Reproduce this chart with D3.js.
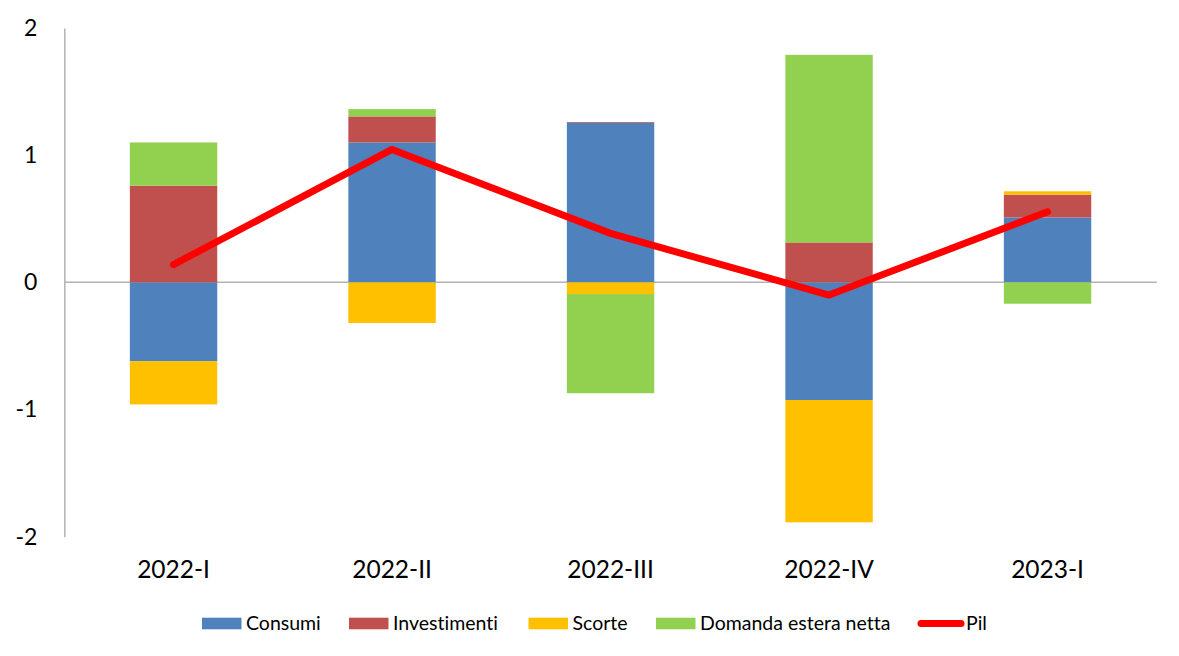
<!DOCTYPE html>
<html>
<head>
<meta charset="utf-8">
<script src="https://cdn.jsdelivr.net/npm/d3@7"></script>
<style>
  html, body { margin: 0; padding: 0; background: #fff; }
  svg { display: block; }
  text { font-family: Lato, "Open Sans", sans-serif; fill: #000; font-variant-ligatures: none; font-feature-settings: "liga" 0, "clig" 0; }
</style>
</head>
<body>
<svg id="chart" width="1179" height="656"></svg>
<script>
// ---- data ----
const categories = ["2022-I", "2022-II", "2022-III", "2022-IV", "2023-I"];
const seriesNames = ["Consumi", "Investimenti", "Scorte", "Domanda estera netta"];
const consumi     = [-0.62, 1.10, 1.255, -0.925, 0.51];
const investimenti = [0.76, 0.205, 0.006, 0.314, 0.18];
const scorte      = [-0.34, -0.32, -0.092, -0.962, 0.026];
const domanda     = [0.34, 0.057, -0.78, 1.475, -0.168];
const pil         = [0.14, 1.045, 0.385, -0.10, 0.555];
const yTicks      = [-2, -1, 0, 1, 2];
const colors      = ["#4F81BD", "#C0504D", "#FFC000", "#92D050"];
const lineColor   = "#FF0000";

const rows = categories.map((c, i) => ({
  cat: c,
  "Consumi": consumi[i],
  "Investimenti": investimenti[i],
  "Scorte": scorte[i],
  "Domanda estera netta": domanda[i]
}));

const svg = d3.select("#chart");

const x = d3.scaleBand().domain(categories).range([64.3, 1156.8]).paddingInner(0).paddingOuter(0);
const y = d3.scaleLinear().domain([-2, 2]).range([536.7, 28]);
const barW = x.step() * 0.4;
const cx = c => x(c) + x.bandwidth() / 2;

// zero line
svg.append("line")
  .attr("x1", 64.3).attr("x2", 1156.8)
  .attr("y1", y(0)).attr("y2", y(0))
  .attr("stroke", "#b3b3b3").attr("stroke-width", 1.5);

// stacked bars
const stack = d3.stack().keys(seriesNames).offset(d3.stackOffsetDiverging);
const stacked = stack(rows);
svg.append("g").selectAll("g")
  .data(stacked)
  .join("g")
  .attr("fill", (d, i) => colors[i])
  .selectAll("rect")
  .data(d => d)
  .join("rect")
  .attr("x", d => cx(d.data.cat) - barW / 2)
  .attr("width", barW)
  .attr("y", d => y(Math.max(d[0], d[1])))
  .attr("height", d => Math.abs(y(d[0]) - y(d[1])));

// y axis
const yAxis = d3.axisLeft(y).tickValues(yTicks).tickSize(0).tickPadding(27).tickFormat(d => String(d));
const gy = svg.append("g").attr("transform", "translate(64.3,0)").call(yAxis);
gy.select(".domain").attr("stroke", "#b3b3b3").attr("stroke-width", 1.5);
gy.selectAll("text").style("font-size", "23px").style("font-family", "Lato, sans-serif").attr("fill", "#000");

// x axis labels
const xAxis = d3.axisBottom(x).tickSize(0).tickPadding(0);
const gx = svg.append("g").attr("transform", "translate(0,561)").call(xAxis);
gx.select(".domain").remove();
gx.selectAll("text").style("font-size", "24.5px").style("font-family", "Lato, sans-serif").attr("fill", "#000");

// Pil line
const line = d3.line().x((d, i) => cx(categories[i])).y(d => y(d));
svg.append("path")
  .datum(pil)
  .attr("d", line)
  .attr("fill", "none")
  .attr("stroke", lineColor)
  .attr("stroke-width", 7)
  .attr("stroke-linecap", "round")
  .attr("stroke-linejoin", "round");

// legend
const legendY = 623.5;
const legendItems = [
  { name: "Consumi", sx: 202, type: "rect", color: colors[0] },
  { name: "Investimenti", sx: 349, type: "rect", color: colors[1] },
  { name: "Scorte", sx: 528.5, type: "rect", color: colors[2] },
  { name: "Domanda estera netta", sx: 656, type: "rect", color: colors[3] },
  { name: "Pil", sx: 921, type: "line", color: lineColor }
];
const lg = svg.append("g");
legendItems.forEach(it => {
  if (it.type === "rect") {
    lg.append("rect").attr("x", it.sx).attr("y", legendY - 5.8).attr("width", 39.5).attr("height", 11.6).attr("fill", it.color);
    lg.append("text").attr("x", it.sx + 44).attr("y", legendY).attr("dy", "0.35em")
      .style("font-size", "19.5px").text(it.name);
  } else {
    lg.append("line").attr("x1", it.sx).attr("x2", it.sx + 40).attr("y1", legendY).attr("y2", legendY)
      .attr("stroke", it.color).attr("stroke-width", 7).attr("stroke-linecap", "round");
    lg.append("text").attr("x", it.sx + 45).attr("y", legendY).attr("dy", "0.35em")
      .style("font-size", "19.5px").text(it.name);
  }
});
</script>
</body>
</html>
